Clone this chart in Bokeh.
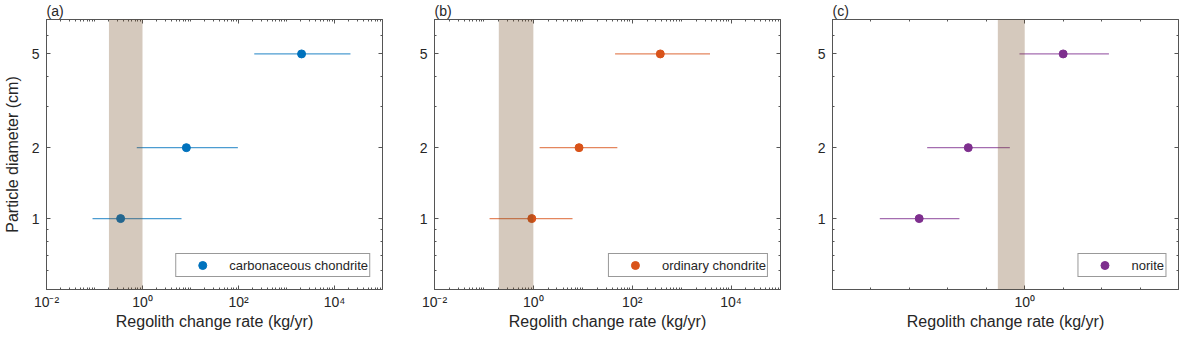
from bokeh.plotting import figure
from bokeh.models import (Range1d, FixedTicker, CustomJSTickFormatter, LogAxis,
                          BoxAnnotation, Legend, LegendItem)
from bokeh.layouts import row
from bokeh.embed import file_html
from bokeh.resources import INLINE

# ---------------- data ----------------
diameter = [1, 2, 5]  # cm

cc_rate = [0.35, 8.2, 2060]
cc_lo = [0.091, 0.76, 213]
cc_hi = [6.5, 97, 21500]

oc_rate = [0.93, 8.4, 370]
oc_lo = [0.13, 1.34, 45]
oc_hi = [6.2, 50, 3750]

no_rate = [0.0018, 0.034, 10]
no_lo = [0.00017, 0.0029, 0.73]
no_hi = [0.02, 0.41, 155]

band_lo = 0.2
band_hi = 1.0

panels = [
    dict(tag="(a)", name="carbonaceous chondrite", color="#0072BD",
         rate=cc_rate, lo=cc_lo, hi=cc_hi, xr=(1e-2, 1e5), ylab=True),
    dict(tag="(b)", name="ordinary chondrite", color="#D95319",
         rate=oc_rate, lo=oc_lo, hi=oc_hi, xr=(1e-2, 1e5), ylab=False),
    dict(tag="(c)", name="norite", color="#7E2F8E",
         rate=no_rate, lo=no_lo, hi=no_hi, xr=(1e-5, 1e4), ylab=False),
]

FONT = "Liberation Sans"
TXT = "#262626"
AX = "#555555"

pow_fmt_code = """
const e = Math.round(Math.log10(tick));
const m = {'-':'\u207b','0':'\u2070','1':'\u00b9','2':'\u00b2','3':'\u00b3','4':'\u2074','5':'\u2075','6':'\u2076','7':'\u2077','8':'\u2078','9':'\u2079'};
return '10' + String(e).split('').map(c => m[c]).join('');
"""
plain_fmt_code = "return String(tick);"


def decade_minors(e0, e1, with_sub=True, skip=()):
    out = []
    for e in range(e0, e1 + 1):
        if e not in skip:
            out.append(10.0 ** e)
        if with_sub and e < e1:
            for k in range(2, 10):
                out.append(k * 10.0 ** e)
    return out


frame_w = 346
figs = []
for i, pn in enumerate(panels):
    left = 36 if i == 0 else 40
    right = 6 if i == 2 else 12
    p = figure(width=left + frame_w + right, height=332,
               x_axis_type="log", y_axis_type="log",
               x_range=Range1d(*pn["xr"]), y_range=Range1d(0.5, 7),
               output_backend="svg", toolbar_location=None,
               min_border_left=left, min_border_right=right,
               min_border_top=14, min_border_bottom=36)
    p.xgrid.visible = False
    p.ygrid.visible = False
    p.outline_line_color = AX
    p.outline_line_width = 1
    p.background_fill_color = "white"
    p.border_fill_color = "white"

    # tickers
    if i < 2:
        xmaj = [1e-2, 1e0, 1e2, 1e4]
        xt = FixedTicker(ticks=xmaj,
                         minor_ticks=decade_minors(-2, 5, True, skip=(-2, 0, 2, 4)))
    else:
        xt = FixedTicker(ticks=[1.0],
                         minor_ticks=decade_minors(-5, 4, False, skip=(0,)))
    yt = FixedTicker(ticks=[1, 2, 5], minor_ticks=[0.6, 0.7, 0.8, 0.9, 3, 4, 6, 7])

    xfmt = CustomJSTickFormatter(code=pow_fmt_code)
    yfmt = CustomJSTickFormatter(code=plain_fmt_code)

    xa = p.xaxis[0]
    xa.ticker = xt
    xa.formatter = xfmt
    xa.axis_label = "Regolith change rate (kg/yr)"
    ya = p.yaxis[0]
    ya.ticker = yt
    ya.formatter = yfmt
    if pn["ylab"]:
        ya.axis_label = "Particle diameter (cm)"

    for ax in (xa, ya):
        ax.axis_line_color = AX
        ax.major_tick_line_color = AX
        ax.minor_tick_line_color = AX
        ax.major_tick_in = 4
        ax.major_tick_out = 0
        ax.minor_tick_in = 2
        ax.minor_tick_out = 0
        ax.major_label_text_font = FONT
        ax.major_label_text_font_size = "14px"
        ax.major_label_text_color = TXT
        ax.axis_label_text_font = FONT
        ax.axis_label_text_font_size = "16px"
        ax.axis_label_text_font_style = "normal"
        ax.axis_label_text_color = TXT
        ax.major_label_standoff = 4
        ax.axis_label_standoff = 0
    ya.major_label_standoff = 7
    ya.axis_label_standoff = 8

    # mirrored tick axes (box on)
    for loc, tk in (("above", xt), ("right", yt)):
        m = LogAxis(ticker=tk, formatter=CustomJSTickFormatter(code="return '';"),
                    axis_line_color=None, major_tick_line_color=AX,
                    minor_tick_line_color=AX, major_tick_in=4, major_tick_out=0,
                    minor_tick_in=2, minor_tick_out=0,
                    major_label_text_font_size="0px", major_label_standoff=0)
        p.add_layout(m, loc)

    # error bars and points
    p.segment(x0=pn["lo"], y0=diameter, x1=pn["hi"], y1=diameter,
              line_color=pn["color"], line_alpha=0.7, line_width=1.3)
    r = p.scatter(x=pn["rate"], y=diameter, size=8, fill_color=pn["color"],
                  line_color=pn["color"])

    # shaded band over the data
    p.add_layout(BoxAnnotation(left=band_lo, right=band_hi,
                               fill_color="#734B23", fill_alpha=0.3,
                               line_color=None))

    leg = Legend(items=[LegendItem(label=pn["name"], renderers=[r])],
                 location="bottom_right")
    leg.margin = 12
    leg.padding = 1
    leg.spacing = 0
    leg.glyph_width = 50
    leg.glyph_height = 20
    leg.label_height = 20
    leg.label_standoff = 2
    leg.label_text_font = FONT
    leg.label_text_font_size = "13px"
    leg.label_text_color = TXT
    leg.border_line_color = "#333333"
    leg.border_line_width = 1
    leg.background_fill_alpha = 1
    p.add_layout(leg)

    p.title.text = pn["tag"]
    p.title.text_font = FONT
    p.title.text_font_size = "14px"
    p.title.text_font_style = "normal"
    p.title.text_color = TXT
    p.title.align = "left"
    p.title.standoff = 1
    figs.append(p)

layout = row(*figs)
open("out.html", "w").write(file_html(layout, INLINE))
